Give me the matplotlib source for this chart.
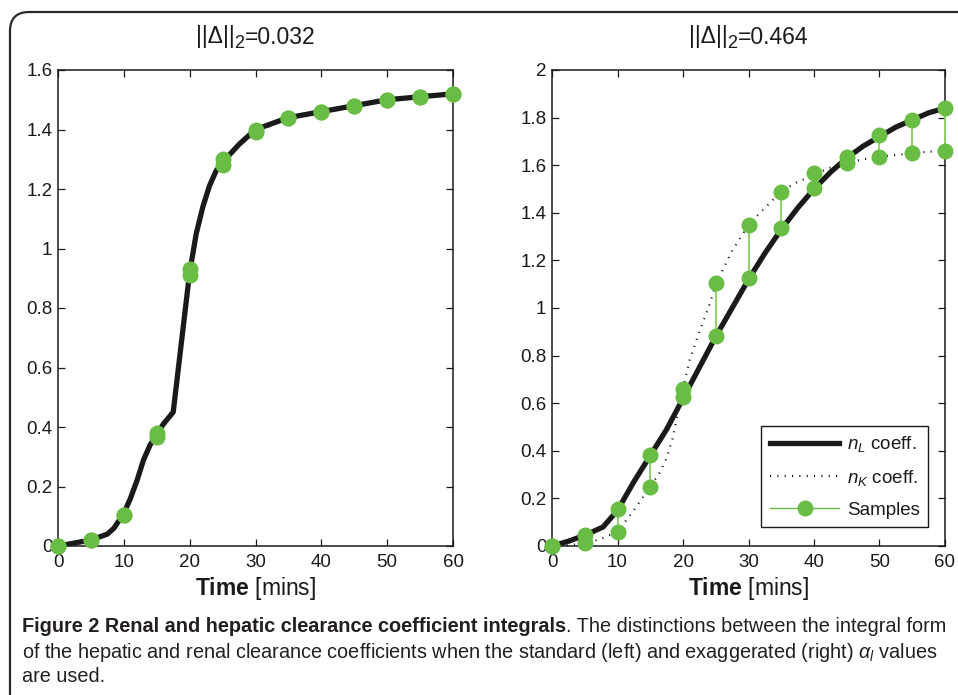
import matplotlib
matplotlib.use("Agg")
import matplotlib.pyplot as plt
from matplotlib.patches import FancyBboxPatch
from matplotlib.lines import Line2D

# ---------------- data ----------------
sample_t = [0, 5, 10, 15, 20, 25, 30, 35, 40, 45, 50, 55, 60]

# left panel (standard alpha)
left_curve_t = [0, 2.5, 5, 7.5, 8.5, 10, 11, 12, 13, 14, 15, 16, 17.5, 20, 21, 22, 23, 24, 25,
                27.5, 30, 35, 40, 45, 50, 55, 60]
left_nL = [0, 0.01, 0.02, 0.04, 0.06, 0.11, 0.16, 0.22, 0.29, 0.34, 0.375, 0.41, 0.45, 0.92, 1.05,
           1.14, 1.21, 1.26, 1.29, 1.35, 1.40, 1.44, 1.46, 1.48, 1.50, 1.51, 1.52]
left_nK = [0, 0.01, 0.02, 0.04, 0.06, 0.105, 0.155, 0.215, 0.285, 0.335, 0.365, 0.40, 0.445, 0.91,
           1.04, 1.13, 1.20, 1.25, 1.28, 1.345, 1.39, 1.44, 1.46, 1.48, 1.50, 1.51, 1.52]
left_sL = [0, 0.02, 0.105, 0.38, 0.93, 1.30, 1.40, 1.44, 1.46, 1.48, 1.50, 1.51, 1.52]
left_sK = [0, 0.02, 0.105, 0.365, 0.91, 1.28, 1.39, 1.44, 1.46, 1.48, 1.50, 1.51, 1.52]

# right panel (exaggerated alpha)
right_nL_t = [0, 2.5, 5, 7.8, 10, 12.5, 15, 17.5, 20, 22.5, 25, 27.5, 30, 32.5, 35, 37.5, 40,
              42.5, 45, 47.5, 50, 52.5, 55, 57.5, 60]
right_nL = [0, 0.02, 0.045, 0.08, 0.15, 0.27, 0.38, 0.49, 0.62, 0.75, 0.88, 1.00, 1.12, 1.23,
            1.33, 1.42, 1.50, 1.57, 1.63, 1.68, 1.72, 1.76, 1.79, 1.82, 1.84]
right_nK_t = [0, 2.5, 5, 7.5, 10, 12.5, 15, 16.5, 17.5, 18.5, 19, 20, 21, 22.5, 24, 25, 27.5, 30,
              32.5, 35, 37.5, 40, 42.5, 45, 47.5, 50, 52.5, 55, 57.5, 60]
right_nK = [0, 0.003, 0.01, 0.03, 0.06, 0.15, 0.25, 0.31, 0.37, 0.46, 0.53, 0.66, 0.78, 0.90, 1.01,
            1.10, 1.24, 1.35, 1.42, 1.49, 1.53, 1.56, 1.59, 1.61, 1.625, 1.635, 1.643, 1.65, 1.657, 1.66]
right_sL = [0, 0.045, 0.155, 0.382, 0.625, 0.884, 1.125, 1.335, 1.505, 1.636, 1.726, 1.79, 1.839]
right_sK = [0, 0.011, 0.058, 0.249, 0.658, 1.104, 1.349, 1.489, 1.566, 1.61, 1.633, 1.65, 1.661]

title_main = '||Δ||'
title_sub = '2'
title_values = ['=0.032', '=0.464']
x_ticks = [0, 10, 20, 30, 40, 50, 60]
left_yticks = [0, 0.2, 0.4, 0.6, 0.8, 1, 1.2, 1.4, 1.6]
left_yticklabels = ['0', '0.2', '0.4', '0.6', '0.8', '1', '1.2', '1.4', '1.6']
right_yticks = [0, 0.2, 0.4, 0.6, 0.8, 1, 1.2, 1.4, 1.6, 1.8, 2]
right_yticklabels = ['0', '0.2', '0.4', '0.6', '0.8', '1', '1.2', '1.4', '1.6', '1.8', '2']
legend_labels = [r'$\mathit{n_L}$ coeff.', r'$\mathit{n_K}$ coeff.', 'Samples']

caption_bold = "Figure 2 Renal and hepatic clearance coefficient integrals"
caption_rest1 = ". The distinctions between the integral form"
caption_line2 = r"of the hepatic and renal clearance coefficients when the standard (left) and exaggerated (right) $\mathit{\alpha_l}$ values"
caption_line3 = "are used."

# ---------------- style ----------------
plt.rcParams['font.family'] = ['Liberation Sans', 'DejaVu Sans']
plt.rcParams['mathtext.fontset'] = 'custom'
plt.rcParams['mathtext.rm'] = 'Liberation Sans'
plt.rcParams['mathtext.it'] = 'Liberation Sans:italic'
plt.rcParams['mathtext.bf'] = 'Liberation Sans:bold'
plt.rcParams['mathtext.default'] = 'regular'

INK = '#1a1a1a'
GREEN = '#69bd45'
LGREEN = '#8fd16b'
W, H = 958, 695
fig = plt.figure(figsize=(W / 100, H / 100), dpi=100)

# rounded border
border = FancyBboxPatch((10 / W, -0.2), 1.2, (H - 12) / H + 0.2,
                        boxstyle="round,pad=0,rounding_size=0.02",
                        transform=fig.transFigure, fill=False, ec='#2a2a2a', lw=1.6,
                        mutation_aspect=W / H)
fig.patches.append(border)

ax_pos = [(58 / W, (H - 546) / H, 395 / W, 476 / H),
          (552 / W, (H - 546) / H, 393 / W, 476 / H)]

panels = [
    (left_curve_t, left_nL, left_curve_t, left_nK, left_sL, left_sK, 1.6, left_yticks, left_yticklabels),
    (right_nL_t, right_nL, right_nK_t, right_nK, right_sL, right_sK, 2.0, right_yticks, right_yticklabels),
]

DOT = (0, (0.5, 2.8))

fig.canvas.draw()
renderer = fig.canvas.get_renderer()

for i, (tL, nL, tK, nK, sL, sK, ymax, yt, ytl) in enumerate(panels):
    ax = fig.add_axes(ax_pos[i])
    ax.plot(tL, nL, color=INK, lw=3.8, solid_capstyle='butt', zorder=2)
    ax.plot(tK, nK, color=INK, lw=1.6, linestyle=DOT, zorder=3)
    for t, a, b in zip(sample_t, sL, sK):
        ax.plot([t, t], [a, b], color=LGREEN, lw=1.4, zorder=4, clip_on=False)
    ax.plot(sample_t, sL, 'o', color=GREEN, ms=11.5, mec='none', zorder=5, clip_on=False)
    ax.plot(sample_t, sK, 'o', color=GREEN, ms=11.5, mec='none', zorder=5, clip_on=False)
    ax.set_xlim(0, 60)
    ax.set_ylim(0, ymax)
    ax.set_xticks(x_ticks)
    ax.set_xticklabels([str(v) for v in x_ticks])
    ax.set_yticks(yt)
    ax.set_yticklabels(ytl)
    ax.tick_params(direction='in', top=True, right=True, length=5, width=0.9,
                   labelsize=13.5, colors=INK)
    ax.tick_params(axis='x', pad=6)
    ax.tick_params(axis='y', pad=4)
    for s in ax.spines.values():
        s.set_linewidth(1.1)
        s.set_color(INK)
    ax.set_xlabel(r'$\mathbf{Time}$ [mins]', fontsize=16.5, labelpad=3, color=INK)

    # title: ||Δ|| with lowered subscript 2, then value
    x0, y0, w0, h0 = ax_pos[i]
    cx = (x0 + w0 / 2) * W
    cy = 37
    parts = [(title_main, 16.5, 0), (title_sub, 13, -6), (title_values[i], 16.5, 0)]
    tmp = [fig.text(0, 0, p, fontsize=s) for p, s, _ in parts]
    widths = [t.get_window_extent(renderer).width for t in tmp]
    for t in tmp:
        t.remove()
    xs = cx - sum(widths) / 2
    for (p, s, dy), wdt in zip(parts, widths):
        fig.text(xs / W, 1 - (cy - dy) / H, p, fontsize=s, color=INK,
                 ha='left', va='center')
        xs += wdt

    if i == 1:
        handles = [Line2D([], [], color=INK, lw=3.8),
                   Line2D([], [], color=INK, lw=1.6, linestyle=DOT),
                   Line2D([], [], color=GREEN, lw=1.0, marker='o', ms=11.5, mec='none')]
        leg = ax.legend(handles, legend_labels, loc='lower right',
                        bbox_to_anchor=(0.957, 0.04), borderaxespad=0, fontsize=13.5,
                        handlelength=3.7, fancybox=False, framealpha=1,
                        edgecolor=INK, labelspacing=0.72, borderpad=0.45,
                        handletextpad=0.4)
        leg.get_frame().set_linewidth(1.0)
        for txt in leg.get_texts():
            txt.set_color(INK)

# caption
cap_family = ['Liberation Sans', 'DejaVu Sans']
cap_size = 14.3
cap_color = '#231f20'
x0 = 22 / W
t1 = fig.text(x0, 1 - 627 / H, caption_bold, fontsize=cap_size, fontweight='bold',
              family=cap_family, va='center', ha='left', color=cap_color)
bb = t1.get_window_extent(renderer)
fig.text(bb.x1 / W, 1 - 627 / H, caption_rest1, fontsize=cap_size, family=cap_family,
         va='center', ha='left', color=cap_color)
fig.text(x0, 1 - 652 / H, caption_line2, fontsize=cap_size, family=cap_family,
         va='center', ha='left', color=cap_color)
fig.text(x0, 1 - 677 / H, caption_line3, fontsize=cap_size, family=cap_family,
         va='center', ha='left', color=cap_color)

fig.savefig('out.png', dpi=100)
